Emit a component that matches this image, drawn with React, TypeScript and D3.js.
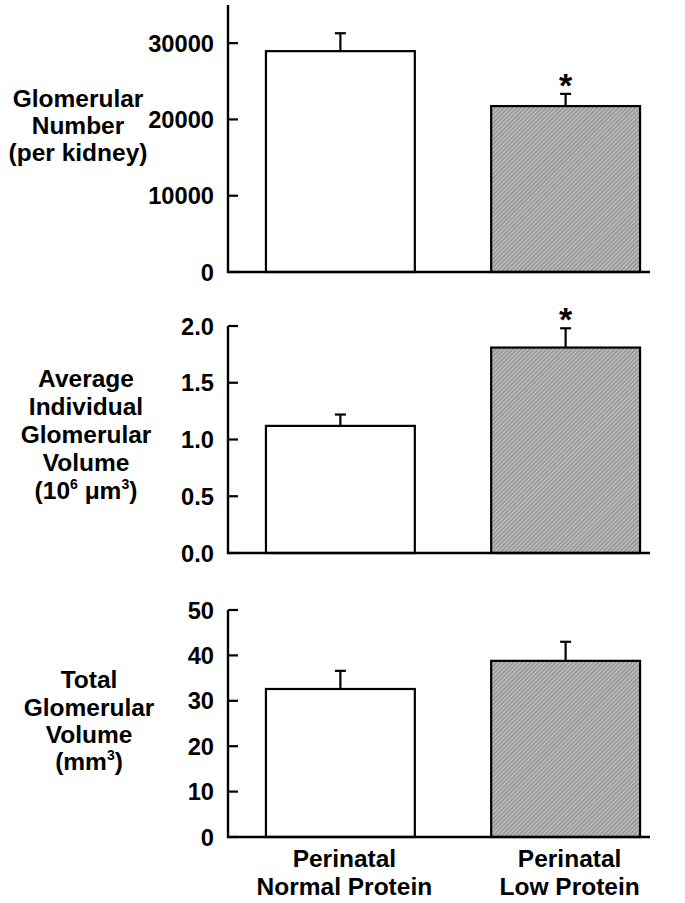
import React from "react";
import * as d3 from "d3";

const categories = ["Perinatal Normal Protein", "Perinatal Low Protein"];
const categoryLines = [["Perinatal", "Normal Protein"], ["Perinatal", "Low Protein"]];

const numberMeans = [28950, 21750];
const numberSem = [2350, 1600];
const numberTicks = [0, 10000, 20000, 30000];

const volumeMeans = [1.12, 1.81];
const volumeSem = [0.10, 0.17];
const volumeTicks = [0, 0.5, 1.0, 1.5, 2.0];

const totalMeans = [32.6, 38.8];
const totalSem = [4.0, 4.2];
const totalTicks = [0, 10, 20, 30, 40, 50];

const significant = [[false, true], [false, true], [false, false]];

const FONT = "'Liberation Sans', Arial, Helvetica, sans-serif";
const LABEL_SIZE = 24.5;

type PanelProps = {
  means: number[];
  sem: number[];
  ticks: number[];
  domain: [number, number];
  range: [number, number];
  fmt: (v: number) => string;
  sig: boolean[];
  title: React.ReactNode;
};

const x = d3
  .scaleBand<string>()
  .domain(categories)
  .range([228, 678])
  .paddingInner(0.339)
  .paddingOuter(0.1685);

const AXIS_X = 228;
const AXIS_END = 650;

function Panel({ means, sem, ticks, domain, range, fmt, sig, title }: PanelProps) {
  const y = d3.scaleLinear().domain(domain).range(range);
  const y0 = y(0);
  return (
    <g>
      {title}
      {categories.map((c, i) => {
        const bx = x(c)!;
        const bw = x.bandwidth();
        const top = y(means[i]);
        const cx = bx + bw / 2;
        const et = y(means[i] + sem[i]);
        return (
          <g key={c}>
            <rect
              x={bx}
              y={top}
              width={bw}
              height={y0 - top}
              fill={i === 0 ? "#ffffff" : "url(#hatch)"}
              stroke="#000"
              strokeWidth={2.2}
            />
            <line x1={cx} x2={cx} y1={top} y2={et} stroke="#000" strokeWidth={2.2} />
            <line x1={cx - 5.5} x2={cx + 5.5} y1={et} y2={et} stroke="#000" strokeWidth={2.2} />
            {sig[i] && (
              <text
                x={cx}
                y={et + 3}
                textAnchor="middle"
                fontFamily={FONT}
                fontWeight="bold"
                fontSize={34}
              >
                *
              </text>
            )}
          </g>
        );
      })}
      <line x1={AXIS_X} x2={AXIS_X} y1={range[1]} y2={y0 + 1} stroke="#000" strokeWidth={2.4} />
      <line x1={AXIS_X - 1} x2={AXIS_END} y1={y0} y2={y0} stroke="#000" strokeWidth={2.4} />
      {ticks.map((t) => (
        <g key={t}>
          <line x1={AXIS_X} x2={AXIS_X + 10} y1={y(t)} y2={y(t)} stroke="#000" strokeWidth={2.2} />
          <text
            x={214}
            y={y(t)}
            dy="0.36em"
            textAnchor="end"
            fontFamily={FONT}
            fontWeight="bold"
            fontSize={23.7}
          >
            {fmt(t)}
          </text>
        </g>
      ))}
    </g>
  );
}

function Title({ lines, ys, cx }: { lines: React.ReactNode[]; ys: number[]; cx: number }) {
  return (
    <g>
      {lines.map((l, i) => (
        <text
          key={i}
          x={cx}
          y={ys[i]}
          textAnchor="middle"
          fontFamily={FONT}
          fontWeight="bold"
          fontSize={LABEL_SIZE}
        >
          {l}
        </text>
      ))}
    </g>
  );
}

export default function App() {
  return (
    <svg
      width={685}
      height={903}
      style={{ position: "absolute", left: 0, top: 0, background: "#fff" }}
    >
      <defs>
        <pattern
          id="hatch"
          patternUnits="userSpaceOnUse"
          width={3}
          height={3}
          patternTransform="rotate(45)"
        >
          <rect width={3} height={3} fill="#b8b8b8" />
          <line x1={0} y1={0} x2={0} y2={3} stroke="#666" strokeWidth={1.1} />
        </pattern>
      </defs>
      <rect width={685} height={903} fill="#fff" />
      <Panel
        means={numberMeans}
        sem={numberSem}
        ticks={numberTicks}
        domain={[0, 35000]}
        range={[272, 5]}
        fmt={(v) => String(v)}
        sig={significant[0]}
        title={<Title cx={78} lines={["Glomerular", "Number", "(per kidney)"]} ys={[107, 134, 161]} />}
      />
      <Panel
        means={volumeMeans}
        sem={volumeSem}
        ticks={volumeTicks}
        domain={[0, 2]}
        range={[553, 326]}
        fmt={d3.format(".1f")}
        sig={significant[1]}
        title={
          <Title
            cx={86}
            lines={[
              "Average",
              "Individual",
              "Glomerular",
              "Volume",
              <>
                (10
                <tspan fontSize={14} dy={-10}>6</tspan>
                <tspan dy={10}> μm</tspan>
                <tspan fontSize={14} dy={-10}>3</tspan>
                <tspan dy={10}>)</tspan>
              </>,
            ]}
            ys={[387, 415, 443, 471, 499]}
          />
        }
      />
      <Panel
        means={totalMeans}
        sem={totalSem}
        ticks={totalTicks}
        domain={[0, 50]}
        range={[837, 610]}
        fmt={(v) => String(v)}
        sig={significant[2]}
        title={
          <Title
            cx={89}
            lines={[
              "Total",
              "Glomerular",
              "Volume",
              <>
                (mm
                <tspan fontSize={14} dy={-10}>3</tspan>
                <tspan dy={10}>)</tspan>
              </>,
            ]}
            ys={[688, 716, 743, 770]}
          />
        }
      />
      {categories.map((c, i) => (
        <g key={c}>
          {categoryLines[i].map((l, j) => (
            <text
              key={j}
              x={x(c)! + x.bandwidth() / 2 + 4}
              y={867 + j * 28}
              textAnchor="middle"
              fontFamily={FONT}
              fontWeight="bold"
              fontSize={LABEL_SIZE}
            >
              {l}
            </text>
          ))}
        </g>
      ))}
    </svg>
  );
}
